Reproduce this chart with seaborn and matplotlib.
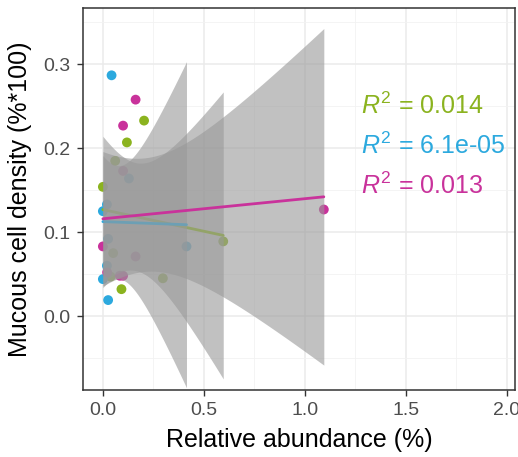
import numpy as np
import pandas as pd
import seaborn as sns
import matplotlib.pyplot as plt

# values
green_x = [0.061, 0.0, 0.204, 0.119, 0.596, 0.051, 0.038, 0.297, 0.092]
green_y = [0.185, 0.154, 0.233, 0.207, 0.089, 0.075, 0.047, 0.045, 0.032]
cyan_x = [0.043, 0.129, 0.02, 0.0, 0.026, 0.414, 0.02, 0.0, 0.026]
cyan_y = [0.287, 0.164, 0.133, 0.125, 0.092, 0.083, 0.060, 0.044, 0.019]
pink_x = [0.162, 0.10, 0.10, 0.0, 0.162, 0.021, 0.084, 0.10, 1.094]
pink_y = [0.258, 0.227, 0.173, 0.083, 0.071, 0.052, 0.048, 0.048, 0.127]

groups = ["A", "B", "C"]
colors = ["#8BB31F", "#2CA9DE", "#C9329B"]
r2_labels = ["0.014", "6.1e-05", "0.013"]
x_ticks = [0.0, 0.5, 1.0, 1.5, 2.0]
y_ticks = [0.0, 0.1, 0.2, 0.3]

# two-sided 95% t quantiles by degrees of freedom
t975 = {5: 2.571, 6: 2.447, 7: 2.365, 8: 2.306, 9: 2.262, 10: 2.228}

df = pd.DataFrame({
    "abundance": green_x + cyan_x + pink_x,
    "density": green_y + cyan_y + pink_y,
    "group": ["A"] * len(green_x) + ["B"] * len(cyan_x) + ["C"] * len(pink_x),
})

sns.set_style("whitegrid", {"grid.color": "#EBEBEB", "axes.edgecolor": "#333333",
                            "xtick.bottom": True, "ytick.left": True})
plt.rcParams["font.family"] = ["Liberation Sans", "DejaVu Sans"]
plt.rcParams["mathtext.fontset"] = "custom"
plt.rcParams["mathtext.rm"] = "Liberation Sans"
plt.rcParams["mathtext.it"] = "Liberation Sans:italic"

fig = plt.figure(figsize=(5.18, 4.57), dpi=100)
ax = fig.add_axes([0.160, 0.147, 0.834, 0.835])

sns.scatterplot(data=df, x="abundance", y="density", hue="group", hue_order=groups,
                palette=colors, s=50, linewidth=0, legend=False, ax=ax, zorder=2)

for i, g in enumerate(groups):
    sub = df[df.group == g]
    x = sub.abundance.values
    y = sub.density.values
    n = len(x)
    b, a = np.polyfit(x, y, 1)
    resid = y - (a + b * x)
    s = np.sqrt(np.sum(resid ** 2) / (n - 2))
    xs = np.linspace(x.min(), x.max(), 80)
    se = s * np.sqrt(1 / n + (xs - x.mean()) ** 2 / np.sum((x - x.mean()) ** 2))
    fit = a + b * xs
    ax.fill_between(xs, fit - t975[n - 2] * se, fit + t975[n - 2] * se,
                    color="#999999", alpha=0.6, linewidth=0, zorder=3 + 2 * i)
    sns.regplot(data=sub, x="abundance", y="density", scatter=False, ci=None,
                color=colors[i], line_kws={"linewidth": 2, "zorder": 4 + 2 * i}, ax=ax)
    ax.text(1.28, 0.251 - 0.048 * i, r"$R^2$ = " + r2_labels[i], color=colors[i],
            fontsize=18, ha="left", va="center", zorder=10)

ax.set_xticks(x_ticks)
ax.set_xticklabels([f"{v:.1f}" for v in x_ticks])
ax.set_yticks(y_ticks)
ax.set_yticklabels([f"{v:.1f}" for v in y_ticks])
ax.set_xticks([0.25, 0.75, 1.25, 1.75], minor=True)
ax.set_yticks([-0.05, 0.05, 0.15, 0.25, 0.35], minor=True)
ax.set_xlim(-0.099, 2.04)
ax.set_ylim(-0.088, 0.367)
ax.grid(which="major", color="#EBEBEB", linewidth=1.1)
ax.grid(which="minor", color="#F2F2F2", linewidth=0.6)
ax.set_axisbelow(True)
ax.tick_params(which="major", direction="out", length=4, width=1, color="#333333",
               labelsize=14, labelcolor="#4D4D4D", pad=5)
ax.tick_params(which="minor", length=0)
for sp in ax.spines.values():
    sp.set_linewidth(1.1)
    sp.set_color("#333333")
ax.set_xlabel("Relative abundance (%)", fontsize=18, color="black", labelpad=6)
ax.set_ylabel("Mucous cell density (%*100)", fontsize=18, color="black", labelpad=8)

fig.savefig("out.png", dpi=100)
